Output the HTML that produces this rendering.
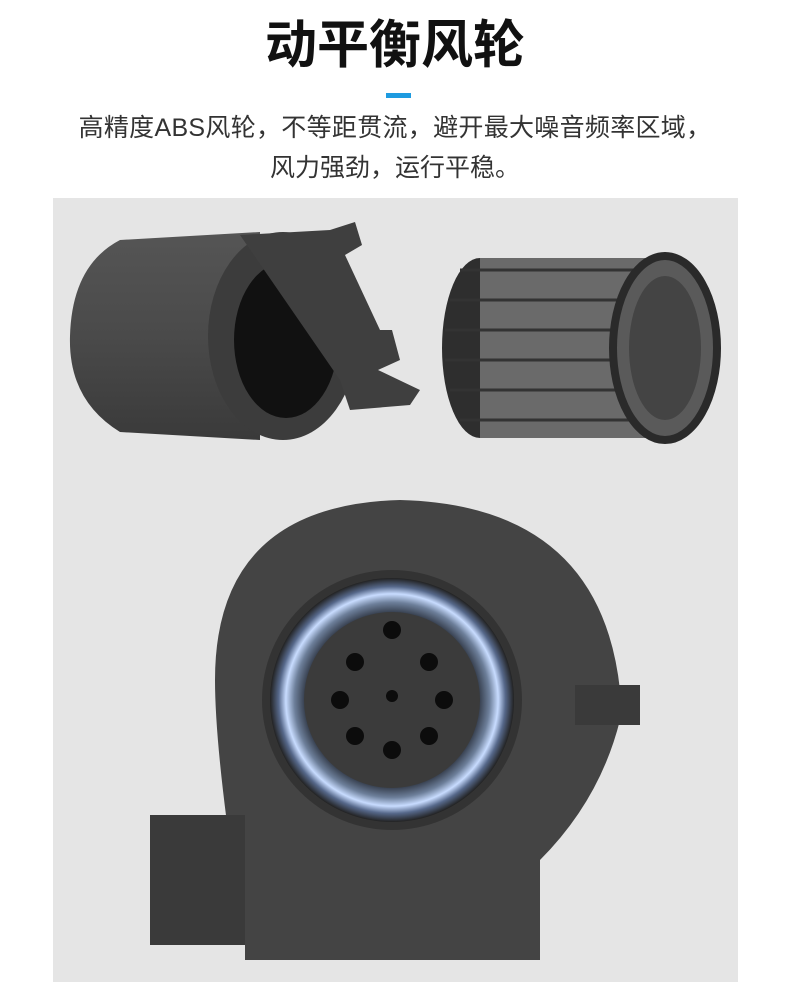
<!DOCTYPE html>
<html><head><meta charset="utf-8"><style>
body{margin:0;width:790px;height:1000px;background:#fff;position:relative;overflow:hidden;font-family:"Liberation Sans","Noto Sans CJK SC",sans-serif}
.t{position:absolute;left:0;width:790px;text-align:center;color:#111}
</style></head><body>
<div class="t" style="top:14px;font-size:52px;font-weight:bold;line-height:64px">动平衡风轮</div>
<div style="position:absolute;left:386px;top:93px;width:25px;height:5px;background:#1e9be0"></div>
<div class="t" style="top:110px;font-size:25px;line-height:36px;color:#333;letter-spacing:0.3px">高精度ABS风轮，不等距贯流，避开最大噪音频率区域，</div>
<div class="t" style="top:150px;font-size:25px;line-height:36px;color:#333">风力强劲，运行平稳。</div>
<svg style="position:absolute;left:0;top:0" width="790" height="1000">
<defs>
<radialGradient id="g1" cx="0.5" cy="0.5" r="0.5"><stop offset="0.7" stop-color="#2c3340"/><stop offset="0.8" stop-color="#6d7f9a"/><stop offset="0.87" stop-color="#c8dcff"/><stop offset="0.93" stop-color="#56688a"/><stop offset="1" stop-color="#222"/></radialGradient>
<linearGradient id="cy" x1="0" y1="0" x2="0" y2="1"><stop offset="0" stop-color="#555"/><stop offset="0.5" stop-color="#4a4a4a"/><stop offset="1" stop-color="#3a3a3a"/></linearGradient>
</defs>
<rect x="53" y="198" width="685" height="784" fill="#e5e5e5"/>
<path d="M120 240 L260 232 L260 440 L120 432 Q68 400 70 336 Q72 265 120 240Z" fill="url(#cy)"/>
<ellipse cx="283" cy="336" rx="75" ry="104" fill="#3c3c3c"/>
<ellipse cx="286" cy="340" rx="52" ry="78" fill="#111"/>
<path d="M240 235 L330 230 L355 222 L362 245 L345 255 L380 330 L392 330 L400 360 L378 370 L420 390 L410 405 L350 410 L340 380 Z" fill="#3f3f3f"/>
<ellipse cx="480" cy="348" rx="38" ry="90" fill="#2e2e2e"/>
<rect x="480" y="258" width="190" height="180" fill="#6a6a6a"/>
<g stroke="#333" stroke-width="3">
<line x1="460" y1="270" x2="650" y2="270"/><line x1="450" y1="300" x2="650" y2="300"/><line x1="445" y1="330" x2="650" y2="330"/><line x1="445" y1="360" x2="650" y2="360"/><line x1="450" y1="390" x2="650" y2="390"/><line x1="460" y1="420" x2="650" y2="420"/>
</g>
<ellipse cx="665" cy="348" rx="52" ry="92" fill="#5a5a5a" stroke="#2a2a2a" stroke-width="8"/>
<ellipse cx="665" cy="348" rx="36" ry="72" fill="#444"/>
<path d="M215 680 Q215 505 400 500 Q600 505 620 690 L640 690 L640 720 L620 720 Q600 800 540 860 L540 960 L245 960 L245 820 L160 820 L160 945 L245 945 Q215 760 215 680Z" fill="#444"/>
<rect x="150" y="815" width="95" height="130" fill="#3a3a3a"/>
<rect x="575" y="685" width="65" height="40" fill="#3a3a3a"/>
<circle cx="392" cy="700" r="130" fill="#333"/>
<circle cx="392" cy="700" r="122" fill="url(#g1)"/>
<circle cx="392" cy="700" r="88" fill="#3b3b3b"/>
<g fill="#0c0c0c">
<circle cx="392" cy="630" r="9"/><circle cx="392" cy="750" r="9"/><circle cx="340" cy="700" r="9"/><circle cx="444" cy="700" r="9"/>
<circle cx="355" cy="662" r="9"/><circle cx="429" cy="662" r="9"/><circle cx="355" cy="736" r="9"/><circle cx="429" cy="736" r="9"/>
<circle cx="392" cy="696" r="6"/>
</g>
</svg>
</body></html>
